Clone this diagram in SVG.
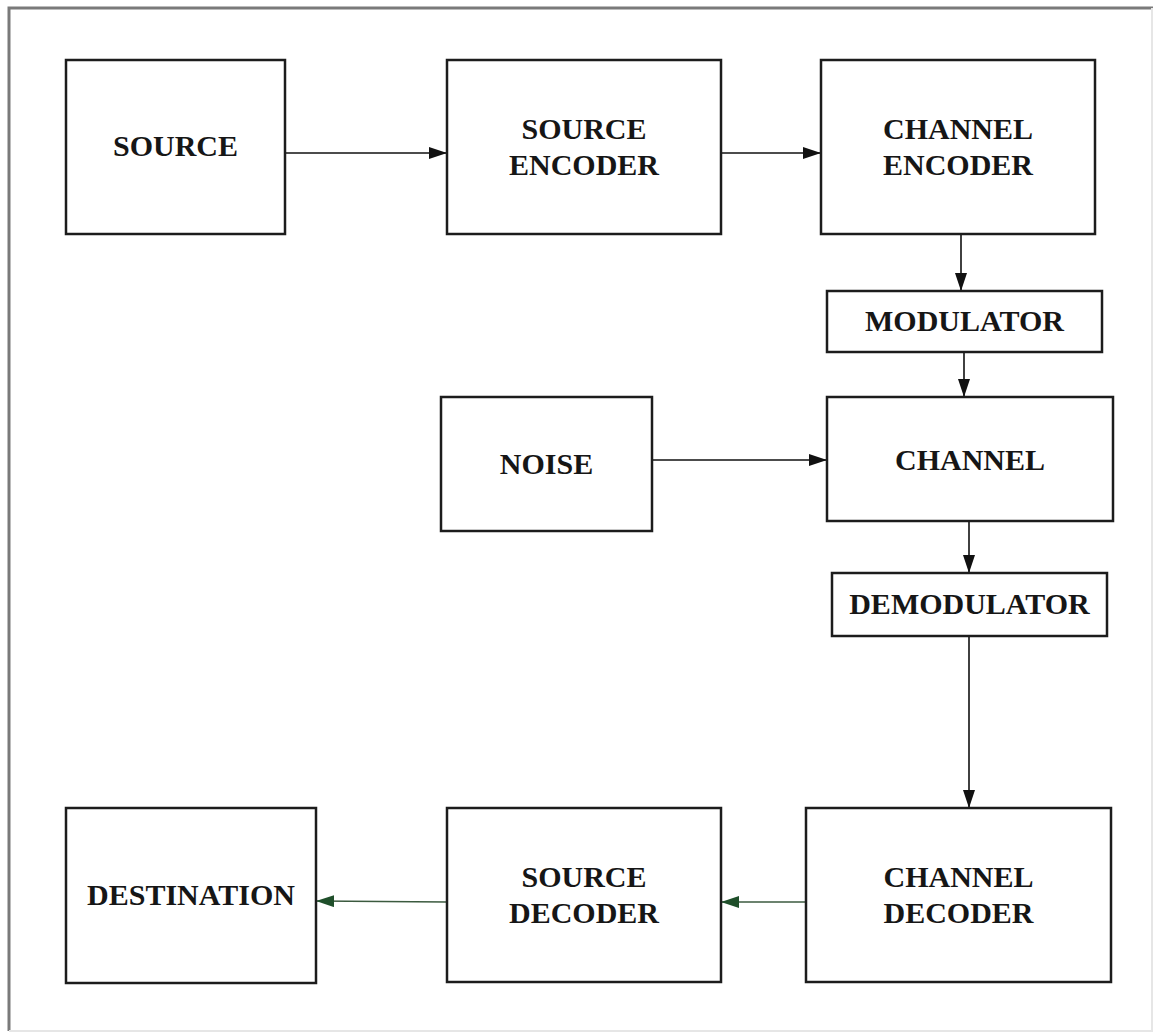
<svg xmlns="http://www.w3.org/2000/svg" width="1156" height="1034" viewBox="0 0 1156 1034">
  <style>
    .box { fill: #ffffff; stroke: #1c1c1c; stroke-width: 2.5; }
    .lbl { font-family: "Liberation Serif", "Times New Roman", serif; font-weight: bold; font-size: 30px; fill: #161616; text-anchor: middle; }
    .wire { fill: none; stroke: #111111; stroke-width: 1.6; }
    .wire-g { fill: none; stroke: #3b5a3f; stroke-width: 1.6; }
  </style>
  <defs>
    <marker id="arrow" markerUnits="userSpaceOnUse" markerWidth="19" markerHeight="13" refX="18" refY="6" orient="auto">
      <path d="M0,0 L18,6 L0,12 z" fill="#111111"/>
    </marker>
    <marker id="arrow-g" markerUnits="userSpaceOnUse" markerWidth="19" markerHeight="13" refX="18" refY="6" orient="auto">
      <path d="M0,0 L18,6 L0,12 z" fill="#1f4f2a"/>
    </marker>
  </defs>

  <rect x="0" y="0" width="1156" height="1034" fill="#ffffff"/>
  <!-- outer frame -->
  <path d="M9,1031 L9,8 L1153,8" fill="none" stroke="#7a7a7a" stroke-width="3"/>
  <path d="M1152,8 L1152,1031 L9,1031" fill="none" stroke="#e6e6e6" stroke-width="2"/>

  <g id="connectors">
    <line class="wire" x1="285" y1="153" x2="447" y2="153" marker-end="url(#arrow)"/>
    <line class="wire" x1="721" y1="153" x2="821" y2="153" marker-end="url(#arrow)"/>
    <line class="wire" x1="961" y1="234" x2="961" y2="291" marker-end="url(#arrow)"/>
    <line class="wire" x1="964" y1="352" x2="964" y2="397" marker-end="url(#arrow)"/>
    <line class="wire" x1="652" y1="460" x2="827" y2="460" marker-end="url(#arrow)"/>
    <line class="wire" x1="969" y1="521" x2="969" y2="573" marker-end="url(#arrow)"/>
    <line class="wire" x1="969" y1="636" x2="969" y2="808" marker-end="url(#arrow)"/>
    <line class="wire-g" x1="806" y1="902" x2="721" y2="902" marker-end="url(#arrow-g)"/>
    <line class="wire-g" x1="447" y1="902" x2="316" y2="901" marker-end="url(#arrow-g)"/>
  </g>

  <g id="source">
    <rect class="box" x="66" y="60" width="219" height="174"/>
    <text class="lbl" x="175.5" y="156">SOURCE</text>
  </g>
  <g id="source-encoder">
    <rect class="box" x="447" y="60" width="274" height="174"/>
    <text class="lbl" x="584" y="139">SOURCE</text>
    <text class="lbl" x="584" y="175">ENCODER</text>
  </g>
  <g id="channel-encoder">
    <rect class="box" x="821" y="60" width="274" height="174"/>
    <text class="lbl" x="958" y="139">CHANNEL</text>
    <text class="lbl" x="958" y="175">ENCODER</text>
  </g>
  <g id="modulator">
    <rect class="box" x="827" y="291" width="275" height="61"/>
    <text class="lbl" x="964.5" y="331">MODULATOR</text>
  </g>
  <g id="noise">
    <rect class="box" x="441" y="397" width="211" height="134"/>
    <text class="lbl" x="546.5" y="474">NOISE</text>
  </g>
  <g id="channel">
    <rect class="box" x="827" y="397" width="286" height="124"/>
    <text class="lbl" x="970" y="470">CHANNEL</text>
  </g>
  <g id="demodulator">
    <rect class="box" x="832" y="573" width="275" height="63"/>
    <text class="lbl" x="969.5" y="614">DEMODULATOR</text>
  </g>
  <g id="destination">
    <rect class="box" x="66" y="808" width="250" height="175"/>
    <text class="lbl" x="191" y="905">DESTINATION</text>
  </g>
  <g id="source-decoder">
    <rect class="box" x="447" y="808" width="274" height="174"/>
    <text class="lbl" x="584" y="887">SOURCE</text>
    <text class="lbl" x="584" y="923">DECODER</text>
  </g>
  <g id="channel-decoder">
    <rect class="box" x="806" y="808" width="305" height="174"/>
    <text class="lbl" x="958.5" y="887">CHANNEL</text>
    <text class="lbl" x="958.5" y="923">DECODER</text>
  </g>
</svg>
